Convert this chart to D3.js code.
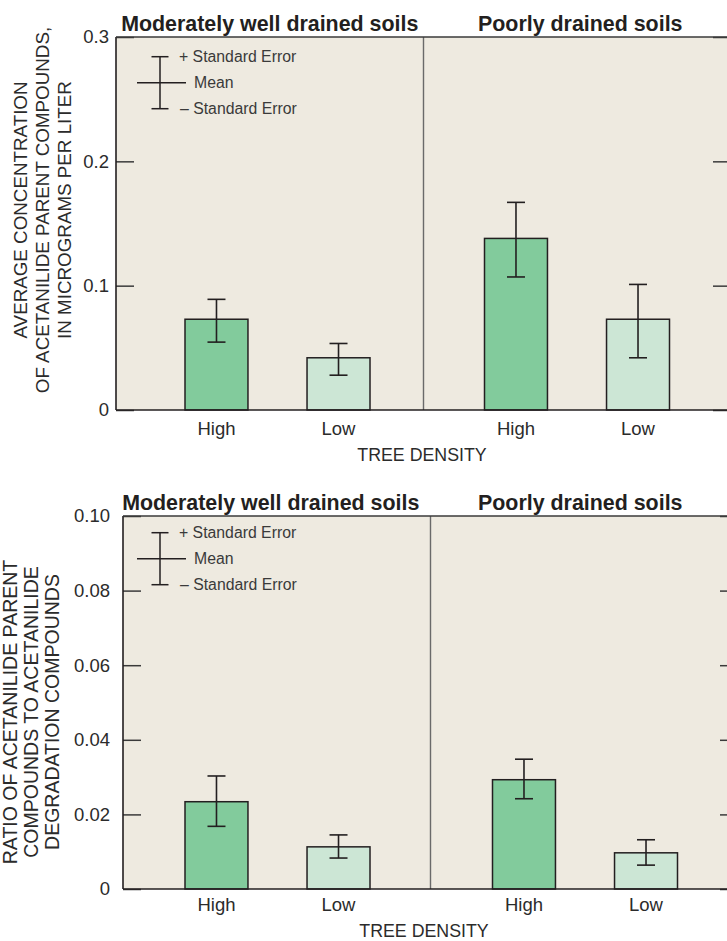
<!DOCTYPE html>
<html>
<head>
<meta charset="utf-8">
<script src="https://cdn.jsdelivr.net/npm/d3@7"></script>
<style>
  html, body { margin: 0; padding: 0; background: #ffffff; overflow: hidden; }
  svg { display: block; font-family: "Liberation Sans", Arial, Helvetica, sans-serif; }
</style>
</head>
<body>
<script>
// ---------------- DATA ----------------
const soils = ["Moderately well drained soils", "Poorly drained soils"];
const categories = ["High", "Low"];
const xAxisTitle = "TREE DENSITY";

// Chart 1: average concentration (micrograms per liter)
const concMean  = [[0.073, 0.042], [0.138, 0.073]];
const concUpper = [[0.089, 0.0535], [0.167, 0.101]];
const concLower = [[0.0546, 0.028], [0.107, 0.042]];
const concTicks = [0, 0.1, 0.2, 0.3];
const concTickLabels = ["0", "0.1", "0.2", "0.3"];
const concTitle = ["AVERAGE CONCENTRATION", "OF ACETANILIDE PARENT COMPOUNDS,", "IN MICROGRAMS PER LITER"];

// Chart 2: ratio parent / degradation
const ratioMean  = [[0.0234, 0.0113], [0.0293, 0.0097]];
const ratioUpper = [[0.0303, 0.0145], [0.0348, 0.0132]];
const ratioLower = [[0.0168, 0.0083], [0.0242, 0.0064]];
const ratioTicks = [0, 0.02, 0.04, 0.06, 0.08, 0.10];
const ratioTickLabels = ["0", "0.02", "0.04", "0.06", "0.08", "0.10"];
const ratioTitle = ["RATIO OF ACETANILIDE PARENT", "COMPOUNDS TO ACETANILIDE", "DEGRADATION COMPOUNDS"];

const legendLabels = ["+ Standard Error", "Mean", "\u2013 Standard Error"];

// ---------------- STYLE ----------------
const BG = "#eeeae0";
const barColor = { High: "#82cb9c", Low: "#cce6d5" };
const INK = "#231f20";
const TEXT = "#2b2b2b";

const svg = d3.select("body").append("svg")
  .attr("width", 727).attr("height", 941);

function drawChart(o) {
  const g = svg.append("g");
  const y = d3.scaleLinear().domain([0, o.yMax]).range([o.bottom, o.top]);
  const xPanel = d3.scaleBand().domain(soils).range([o.left, o.right]);
  const xInner = d3.scaleBand().domain(categories).range([0, 185]).paddingInner(0.484);

  // plot background
  g.append("rect")
    .attr("x", o.left).attr("y", o.top)
    .attr("width", o.right - o.left).attr("height", o.bottom - o.top)
    .attr("fill", BG);

  // panel divider
  soils.slice(1).forEach(s => {
    g.append("line")
      .attr("x1", xPanel(s)).attr("x2", xPanel(s))
      .attr("y1", o.top).attr("y2", o.bottom)
      .attr("stroke", "#6a6a6a").attr("stroke-width", 1.4);
  });

  // panel titles
  g.selectAll("text.ptitle").data(soils).join("text")
    .attr("class", "ptitle")
    .attr("x", d => xPanel(d) + xPanel.bandwidth() / 2 + o.titleShift[soils.indexOf(d)])
    .attr("y", o.top - 6)
    .attr("text-anchor", "middle")
    .attr("font-size", 21.4).attr("font-weight", "bold")
    .attr("fill", INK)
    .text(d => d);

  // bars + error bars
  const rows = [];
  soils.forEach((s, i) => categories.forEach((c, j) => {
    rows.push({ s, c, i, j, mean: o.mean[i][j], up: o.upper[i][j], lo: o.lower[i][j],
      x: xPanel(s) + o.offsets[i] + xInner(c) });
  }));

  g.selectAll("rect.bar").data(rows).join("rect")
    .attr("class", "bar")
    .attr("x", d => d.x).attr("y", d => y(d.mean))
    .attr("width", xInner.bandwidth()).attr("height", d => y(0) - y(d.mean))
    .attr("fill", d => barColor[d.c])
    .attr("stroke", INK).attr("stroke-width", 1.5);

  const cap = 9;
  rows.forEach(d => {
    const cx = d.x + xInner.bandwidth() / 2;
    g.append("line").attr("x1", cx).attr("x2", cx).attr("y1", y(d.up)).attr("y2", y(d.lo))
      .attr("stroke", INK).attr("stroke-width", 1.6);
    [d.up, d.lo].forEach(v => {
      g.append("line").attr("x1", cx - cap).attr("x2", cx + cap).attr("y1", y(v)).attr("y2", y(v))
        .attr("stroke", INK).attr("stroke-width", 1.6);
    });
  });

  // category labels
  g.selectAll("text.cat").data(rows).join("text")
    .attr("class", "cat")
    .attr("x", d => d.x + xInner.bandwidth() / 2)
    .attr("y", o.catY)
    .attr("text-anchor", "middle")
    .attr("font-size", 18.5).attr("fill", TEXT)
    .text(d => d.c);

  // x axis title
  g.append("text")
    .attr("x", o.xTitleX).attr("y", o.xTitleY)
    .attr("text-anchor", "middle")
    .attr("font-size", 17.8).attr("fill", TEXT)
    .text(xAxisTitle);

  // left axis
  const yAxis = d3.axisLeft(y).tickValues(o.ticks)
    .tickFormat((d, k) => o.tickLabels[k])
    .tickSize(-18).tickPadding(o.tickPad);
  const ax = g.append("g").call(yAxis).attr("transform", `translate(${o.left},0)`);
  ax.select(".domain").remove();
  ax.selectAll(".tick line").attr("stroke", "#3a3a3a").attr("stroke-width", 1.5);
  ax.selectAll(".tick text").attr("font-size", 18.5).attr("fill", TEXT)
    .attr("font-family", "Liberation Sans, Arial, sans-serif");

  // right axis (ticks only, pointing inward)
  const yAxisR = d3.axisRight(y).tickValues(o.ticks).tickFormat("").tickSize(-18);
  const axr = g.append("g").call(yAxisR).attr("transform", `translate(${o.right},0)`);
  axr.select(".domain").remove();
  axr.selectAll(".tick line").attr("stroke", "#3a3a3a").attr("stroke-width", 1.5);

  // frame lines: left, top, baseline, right
  g.append("line").attr("x1", o.left).attr("x2", o.left).attr("y1", o.top).attr("y2", o.bottom)
    .attr("stroke", INK).attr("stroke-width", 1.6);
  g.append("line").attr("x1", o.left).attr("x2", o.right).attr("y1", o.top).attr("y2", o.top)
    .attr("stroke", "#3a3a3a").attr("stroke-width", 1.6);
  g.append("line").attr("x1", o.left).attr("x2", o.right).attr("y1", o.bottom).attr("y2", o.bottom)
    .attr("stroke", INK).attr("stroke-width", 1.6);
  g.append("line").attr("x1", o.right).attr("x2", o.right).attr("y1", o.top).attr("y2", o.bottom)
    .attr("stroke", INK).attr("stroke-width", 1.6);

  // y axis title
  const yt = g.append("text")
    .attr("transform", `translate(0,${o.yTitleY}) rotate(-90)`)
    .attr("text-anchor", "middle")
    .attr("font-size", o.yTitleSize).attr("fill", TEXT);
  o.yTitle.forEach((t, k) => {
    yt.append("tspan").attr("x", 0).attr("y", o.yTitleX[k] + 7).text(t);
  });

  // legend
  const lx = 160, ly = o.legendY;
  const lg = g.append("g");
  const yU = ly - 26, yL = ly + 26;
  lg.append("line").attr("x1", lx).attr("x2", lx).attr("y1", yU).attr("y2", yL)
    .attr("stroke", INK).attr("stroke-width", 1.5);
  [yU, yL].forEach(v => lg.append("line").attr("x1", lx - 8.5).attr("x2", lx + 8.5)
    .attr("y1", v).attr("y2", v).attr("stroke", INK).attr("stroke-width", 1.5));
  lg.append("line").attr("x1", lx - 23).attr("x2", lx + 26).attr("y1", ly).attr("y2", ly)
    .attr("stroke", INK).attr("stroke-width", 1.5);
  const lys = [yU, ly, yL];
  const lxs = [lx + 19, lx + 34, lx + 20];
  legendLabels.forEach((t, k) => {
    lg.append("text").attr("x", lxs[k]).attr("y", lys[k] + 5.5)
      .attr("font-size", 15.8).attr("fill", "#3a3a3a").text(t);
  });
}

drawChart({
  top: 37, bottom: 410, left: 116, right: 731, yMax: 0.3,
  ticks: concTicks, tickLabels: concTickLabels, tickPad: 7,
  mean: concMean, upper: concUpper, lower: concLower,
  offsets: [69, 61], titleShift: [0, 3],
  catY: 435, xTitleX: 422, xTitleY: 461,
  yTitle: concTitle, yTitleX: [20, 42, 64], yTitleY: 210, yTitleSize: 18.8,
  legendY: 82.7
});

drawChart({
  top: 516, bottom: 889, left: 123, right: 738, yMax: 0.10,
  ticks: ratioTicks, tickLabels: ratioTickLabels, tickPad: 13,
  mean: ratioMean, upper: ratioUpper, lower: ratioLower,
  offsets: [62, 62], titleShift: [-6, -4],
  catY: 911, xTitleX: 424, xTitleY: 937,
  yTitle: ratioTitle, yTitleX: [10, 31, 52], yTitleY: 712, yTitleSize: 19.5,
  legendY: 558.7
});
</script>
</body>
</html>
